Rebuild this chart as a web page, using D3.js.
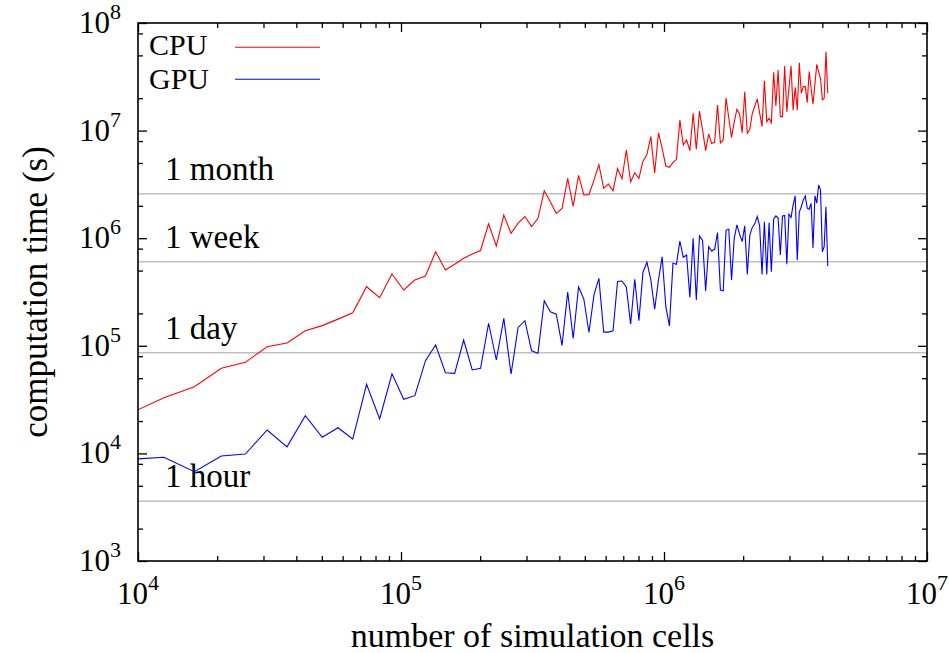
<!DOCTYPE html>
<html>
<head>
<meta charset="utf-8">
<script src="https://cdn.jsdelivr.net/npm/d3@7"></script>
<style>
  body { margin: 0; background: #fff; }
  text { font-family: "Liberation Serif", serif; fill: #000; }
</style>
</head>
<body>
<div id="paper"></div>
<script>

// data: square grids, side length in cells (runs k = 6 .. 128, step 16)

const gridSide = [
  96, 112, 128, 144, 160, 176, 192, 208, 224, 240,
  256, 272, 288, 304, 320, 336, 352, 368, 384, 400,
  416, 432, 448, 464, 480, 496, 512, 528, 544, 560,
  576, 592, 608, 624, 640, 656, 672, 688, 704, 720,
  736, 752, 768, 784, 800, 816, 832, 848, 864, 880,
  896, 912, 928, 944, 960, 976, 992, 1008, 1024, 1040,
  1056, 1072, 1088, 1104, 1120, 1136, 1152, 1168, 1184, 1200,
  1216, 1232, 1248, 1264, 1280, 1296, 1312, 1328, 1344, 1360,
  1376, 1392, 1408, 1424, 1440, 1456, 1472, 1488, 1504, 1520,
  1536, 1552, 1568, 1584, 1600, 1616, 1632, 1648, 1664, 1680,
  1696, 1712, 1728, 1744, 1760, 1776, 1792, 1808, 1824, 1840,
  1856, 1872, 1888, 1904, 1920, 1936, 1952, 1968, 1984, 2000,
  2016, 2032, 2048
]

// computation time in seconds

const cpuTime = [
  2.32e4, 3.29e4, 4.17e4, 6.18e4, 7.02e4, 9.81e4, 1.06e5, 1.38e5, 1.54e5, 1.77e5,
  2.03e5, 3.54e5, 2.80e5, 4.65e5, 3.30e5, 4.09e5, 4.45e5, 7.49e5, 5.07e5, 5.72e5,
  6.50e5, 7.13e5, 7.69e5, 1.36e6, 8.46e5, 1.64e6, 1.11e6, 1.38e6, 1.59e6, 1.28e6,
  1.53e6, 2.76e6, 2.18e6, 1.70e6, 1.89e6, 3.60e6, 1.98e6, 3.84e6, 2.52e6, 2.54e6,
  3.47e6, 4.82e6, 2.91e6, 3.18e6, 2.75e6, 4.44e6, 3.57e6, 6.60e6, 3.35e6, 4.06e6,
  3.60e6, 5.19e6, 6.00e6, 8.78e6, 4.01e6, 9.56e6, 6.85e6, 4.69e6, 4.56e6, 5.03e6,
  5.41e6, 1.25e7, 7.35e6, 8.18e6, 6.51e6, 1.45e7, 6.70e6, 1.52e7, 1.01e7, 6.51e6,
  9.30e6, 7.62e6, 7.75e6, 1.73e7, 7.67e6, 8.18e6, 2.01e7, 1.31e7, 8.66e6, 1.20e7,
  1.58e7, 1.43e7, 9.56e6, 2.30e7, 9.44e6, 1.03e7, 1.45e7, 1.69e7, 1.97e7, 1.46e7,
  1.09e7, 2.91e7, 1.21e7, 1.30e7, 1.18e7, 3.48e7, 1.69e7, 3.66e7, 1.35e7, 1.35e7,
  3.99e7, 1.50e7, 2.49e7, 3.99e7, 1.55e7, 2.53e7, 1.55e7, 4.28e7, 2.22e7, 2.56e7,
  2.56e7, 1.82e7, 3.53e7, 2.49e7, 1.77e7, 2.71e7, 4.13e7, 3.51e7, 3.06e7, 1.93e7,
  2.00e7, 5.41e7, 2.22e7
]

const gpuTime = [
  8.78e3, 9.20e3, 6.76e3, 9.46e3, 9.87e3, 1.65e4, 1.15e4, 2.24e4, 1.41e4, 1.73e4,
  1.36e4, 4.39e4, 2.09e4, 5.49e4, 3.18e4, 3.44e4, 7.27e4, 1.02e5, 5.62e4, 5.55e4,
  1.13e5, 5.96e4, 6.18e4, 1.62e5, 7.38e4, 1.80e5, 5.47e4, 1.48e5, 1.71e5, 8.99e4,
  8.52e4, 2.62e5, 2.07e5, 1.97e5, 1.01e5, 3.16e5, 1.17e5, 3.52e5, 2.72e5, 1.33e5,
  2.97e5, 4.24e5, 1.34e5, 1.34e5, 1.38e5, 3.96e5, 4.00e5, 3.52e5, 1.59e5, 4.16e5,
  1.71e5, 4.83e5, 5.98e5, 4.09e5, 2.19e5, 4.09e5, 6.73e5, 2.31e5, 1.53e5, 5.84e5,
  5.72e5, 9.42e5, 6.65e5, 6.98e5, 2.82e5, 9.98e5, 2.67e5, 1.05e6, 9.48e5, 3.23e5,
  8.34e5, 7.60e5, 7.88e5, 1.13e6, 3.30e5, 3.25e5, 1.19e6, 1.21e6, 4.09e5, 9.98e5,
  1.33e6, 1.09e6, 9.28e5, 1.30e6, 4.60e5, 1.07e6, 1.26e6, 1.36e6, 1.59e6, 1.30e6,
  4.60e5, 1.42e6, 4.60e5, 1.39e6, 4.88e5, 1.50e6, 1.61e6, 1.54e6, 6.98e5, 1.61e6,
  1.63e6, 5.73e5, 1.67e6, 1.56e6, 2.04e6, 2.47e6, 6.27e5, 1.75e6, 1.96e6, 2.27e6,
  2.47e6, 1.90e6, 1.86e6, 2.11e6, 8.11e5, 2.47e6, 2.12e6, 3.12e6, 2.82e6, 7.49e5,
  8.34e5, 1.96e6, 5.52e5
]

// reference durations (s)

const refLabels = ['1 hour', '1 day', '1 week', '1 month']
const refSeconds = [3600, 86400, 604800, 2592000]

const xMajor = [1e4, 1e5, 1e6, 1e7]
const yMajor = [1e3, 1e4, 1e5, 1e6, 1e7, 1e8]

// layout

const plotLeft = 138, plotRight = 927, plotTop = 23, plotBottom = 561

const x = d3.scaleLog().domain([1e4, 1e7]).range([plotLeft, plotRight])
const y = d3.scaleLog().domain([1e3, 1e8]).range([plotBottom, plotTop])

const svg = d3.select('#paper')
  .append('svg')
  .attr('width', 949)
  .attr('height', 653)

svg.append('clipPath').attr('id', 'plotclip')
  .append('rect')
  .attr('x', plotLeft).attr('y', plotTop)
  .attr('width', plotRight - plotLeft).attr('height', plotBottom - plotTop)

// reference lines and their labels

svg.append('g')
  .selectAll('line')
  .data(refSeconds)
  .join('line')
  .attr('x1', plotLeft).attr('x2', plotRight)
  .attr('y1', d => y(d)).attr('y2', d => y(d))
  .style('stroke', '#c0c0c0')
  .style('stroke-width', 1.5)

svg.append('g')
  .selectAll('text')
  .data(refSeconds)
  .join('text')
  .attr('x', 165)
  .attr('y', d => y(d) - 14)
  .attr('font-size', '33px')
  .text((d, i) => refLabels[i])

// series

const cells = gridSide.map(s => s * s)
const line = d3.line().x(d => x(d[0])).y(d => y(d[1]))

function series(values, colour){
  svg.append('path')
    .datum(cells.map((c, i) => [c, values[i]]))
    .attr('clip-path', 'url(#plotclip)')
    .attr('d', line)
    .style('fill', 'none')
    .style('stroke', colour)
    .style('stroke-width', 1.1)
}

series(cpuTime, '#ff0000')
series(gpuTime, '#0000ff')

// ticks (inward, mirrored)

const isMajor = v => Math.abs(Math.log10(v) - Math.round(Math.log10(v))) < 1e-9
const xMinor = x.ticks().filter(v => !isMajor(v))
const yMinor = y.ticks().filter(v => {
  const m = Math.round(v / Math.pow(10, Math.floor(Math.log10(v) + 1e-9)))
  return m == 2 || m == 5 || m == 8
})

function ticks(axis, values, size, tx, ty){
  svg.append('g')
    .attr('transform', `translate(${tx},${ty})`)
    .call(axis.tickValues(values).tickSize(-size).tickSizeOuter(0).tickFormat(''))
    .call(g => g.select('.domain').remove())
    .call(g => g.selectAll('line').style('stroke', '#000').style('stroke-width', 1.3))
}

ticks(d3.axisBottom(x), xMajor, 9, 0, plotBottom)
ticks(d3.axisBottom(x), xMinor, 5, 0, plotBottom)
ticks(d3.axisTop(x), xMajor, 9, 0, plotTop)
ticks(d3.axisTop(x), xMinor, 5, 0, plotTop)
ticks(d3.axisLeft(y), yMajor, 9, plotLeft, 0)
ticks(d3.axisLeft(y), yMinor, 5, plotLeft, 0)
ticks(d3.axisRight(y), yMajor, 9, plotRight, 0)
ticks(d3.axisRight(y), yMinor, 5, plotRight, 0)

svg.append('rect')
  .attr('x', plotLeft).attr('y', plotTop)
  .attr('width', plotRight - plotLeft).attr('height', plotBottom - plotTop)
  .style('fill', 'none')
  .style('stroke', '#000')
  .style('stroke-width', 1.6)

// tick labels 10^n

function power_label(sel){
  sel.append('tspan').text('10')
  sel.append('tspan')
    .attr('dy', -14)
    .attr('font-size', '22px')
    .text(d => Math.round(Math.log10(d)))
}

svg.append('g')
  .selectAll('text')
  .data(xMajor)
  .join('text')
  .attr('x', d => x(d))
  .attr('y', 604)
  .attr('text-anchor', 'middle')
  .attr('font-size', '31px')
  .call(power_label)

svg.append('g')
  .selectAll('text')
  .data(yMajor)
  .join('text')
  .attr('x', 121)
  .attr('y', d => y(d) + 10)
  .attr('text-anchor', 'end')
  .attr('font-size', '31px')
  .call(power_label)

// axis titles

svg.append('text')
  .attr('x', (plotLeft + plotRight) / 2)
  .attr('y', 647)
  .attr('text-anchor', 'middle')
  .attr('font-size', '34px')
  .text('number of simulation cells')

svg.append('text')
  .attr('transform', 'translate(47,292) rotate(-90)')
  .attr('text-anchor', 'middle')
  .attr('font-size', '35px')
  .text('computation time (s)')

// legend

const legendNames = ['CPU', 'GPU']
const legendColours = ['#ff0000', '#0000ff']

legendNames.forEach((name, i) => {
  svg.append('text')
    .attr('x', 149)
    .attr('y', 55 + i * 34)
    .attr('font-size', '30px')
    .text(name)
  svg.append('line')
    .attr('x1', 235).attr('x2', 320)
    .attr('y1', 47.3 + i * 32).attr('y2', 47.3 + i * 32)
    .style('stroke', legendColours[i])
    .style('stroke-width', 1.1)
})

</script>
</body>
</html>
